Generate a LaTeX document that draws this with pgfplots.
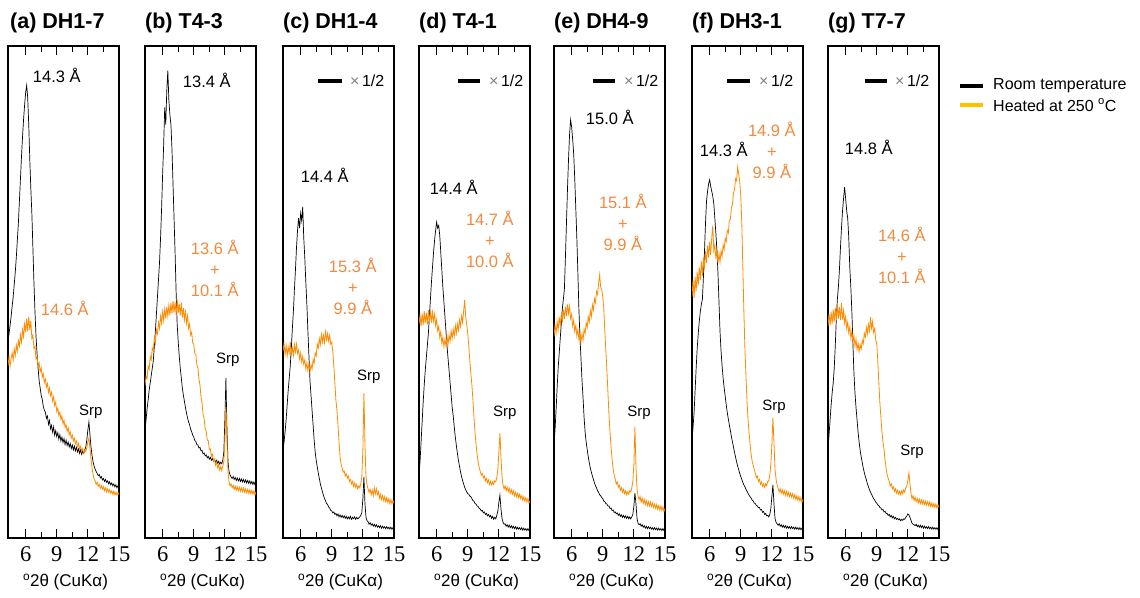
\documentclass[border=0pt]{standalone}
\usepackage{fontspec}
\setmainfont{Liberation Sans}
\newfontfamily\tnr{Liberation Serif}
\usepackage{pgfplots}
\usepackage{pgfplotstable}
\pgfplotsset{compat=1.18}

\definecolor{heatorange}{HTML}{FF8C00}
\definecolor{labelorange}{HTML}{F28A3E}
\definecolor{legendgold}{HTML}{FFC000}

\newcommand{\ttl}{\bfseries\fontsize{21.5}{21.5}\selectfont}
\newcommand{\lab}{\fontsize{16.5}{21}\selectfont}
\newcommand{\srp}{\fontsize{15}{15}\selectfont}

% columns: 2theta, room temperature (b), heated at 250 C (o)
\pgfplotstableread{
x b o
4.3 40.0 35.0
4.4 41.5 36.8
4.5 43.2 34.9
4.6 45.0 36.5
4.7 47.1 37.6
4.8 49.0 36.2
4.9 51.5 38.4
5.0 54.0 37.1
5.1 57.0 39.2
5.2 60.5 38.0
5.3 64.0 40.1
5.4 68.5 39.0
5.5 73.0 41.3
5.6 77.5 39.8
5.7 81.5 42.4
5.8 85.0 40.9
5.9 88.0 43.5
6.0 90.5 41.8
6.1 92.0 44.6
6.2 89.5 42.0
6.3 84.0 45.0
6.4 77.0 42.3
6.5 71.0 44.1
6.6 66.0 40.6
6.7 59.0 41.2
6.8 52.0 38.5
6.9 46.0 38.9
7.0 41.0 36.4
7.1 37.5 36.8
7.2 34.5 35.0
7.3 32.0 35.6
7.4 30.5 33.8
7.5 29.0 34.6
7.6 28.2 32.7
7.7 26.8 33.4
7.8 26.0 31.6
7.9 25.6 32.3
8.0 24.3 30.7
8.1 24.8 31.4
8.2 23.1 29.6
8.3 23.9 30.5
8.4 22.2 28.9
8.5 22.9 29.6
8.6 21.5 27.8
8.7 22.6 28.7
8.8 20.9 26.9
8.9 21.8 27.6
9.0 20.6 25.7
9.1 21.4 26.4
9.2 20.1 24.9
9.3 21.0 25.6
9.4 19.7 24.1
9.5 20.5 24.8
9.6 19.4 23.2
9.7 20.2 23.9
9.8 19.0 22.5
9.9 19.9 23.0
10.0 18.8 21.7
10.1 19.5 22.4
10.2 18.5 21.0
10.3 19.2 21.6
10.4 18.2 20.3
10.5 18.9 20.9
10.6 17.9 19.7
10.7 18.7 20.3
10.8 17.7 19.2
10.9 18.4 19.7
11.0 17.5 18.6
11.1 18.1 19.2
11.2 17.2 18.1
11.3 17.9 18.6
11.4 17.0 17.6
11.5 17.7 18.2
11.6 17.2 17.3
11.7 17.9 17.8
11.8 18.5 17.6
11.9 20.0 18.4
12.0 22.0 19.6
12.1 23.6 20.3
12.2 21.0 18.2
12.3 18.5 16.0
12.4 16.8 14.3
12.5 15.5 12.9
12.6 14.6 12.0
12.7 14.0 11.6
12.8 13.5 10.9
12.9 13.1 11.3
13.0 12.7 10.5
13.1 12.9 10.9
13.2 12.2 10.1
13.3 12.5 10.6
13.4 11.8 9.9
13.5 12.1 10.4
13.6 11.5 9.6
13.7 11.9 10.2
13.8 11.3 9.4
13.9 11.6 10.0
14.0 11.0 9.3
14.1 11.4 9.8
14.2 10.8 9.1
14.3 11.2 9.6
14.4 10.6 8.9
14.5 11.0 9.5
14.6 10.4 8.8
14.7 10.8 9.3
14.8 10.2 8.7
14.9 10.6 9.2
15.0 10.2 8.8
}\tabA

\pgfplotstableread{
x b o
4.3 22.0 31.0
4.4 24.0 32.8
4.5 26.2 32.4
4.6 28.0 34.9
4.7 30.0 34.3
4.8 31.5 36.9
4.9 33.0 36.2
5.0 34.5 38.6
5.1 36.0 38.0
5.2 39.0 40.7
5.3 42.0 39.6
5.4 45.5 42.3
5.5 49.0 41.5
5.6 52.5 43.8
5.7 56.0 42.6
5.8 61.0 45.1
5.9 67.0 43.7
6.0 74.0 46.0
6.1 80.0 44.2
6.2 87.5 46.5
6.3 84.0 44.6
6.4 91.0 47.0
6.5 95.0 45.1
6.6 89.0 47.3
6.7 86.0 45.3
6.8 84.0 47.8
6.9 79.0 45.6
7.0 72.0 48.2
7.1 65.0 45.8
7.2 58.0 47.9
7.3 50.0 45.4
7.4 43.5 48.5
7.5 40.0 45.7
7.6 37.0 47.6
7.7 34.5 45.2
7.8 32.5 47.9
7.9 30.5 44.8
8.0 29.0 46.7
8.1 27.8 44.3
8.2 26.5 46.0
8.3 25.4 43.6
8.4 24.4 45.2
8.5 23.6 42.6
8.6 23.0 43.5
8.7 22.1 41.2
8.8 21.6 41.8
8.9 20.9 39.6
9.0 20.5 39.4
9.1 19.8 37.5
9.2 19.6 37.3
9.3 19.0 35.2
9.4 18.9 34.6
9.5 18.3 32.3
9.6 18.4 31.1
9.7 17.7 28.6
9.8 17.8 27.4
9.9 17.1 25.1
10.0 17.3 24.3
10.1 16.7 22.2
10.2 16.9 21.7
10.3 16.3 19.9
10.4 16.6 19.8
10.5 16.0 18.0
10.6 16.4 18.1
10.7 15.8 16.6
10.8 16.2 17.0
10.9 15.6 15.6
11.0 16.0 16.0
11.1 15.4 14.8
11.2 15.8 15.4
11.3 15.2 14.3
11.4 15.6 14.9
11.5 15.0 13.8
11.6 15.4 14.5
11.7 15.1 13.7
11.8 15.8 14.6
11.9 17.5 15.5
12.0 24.0 19.5
12.1 32.5 26.6
12.2 22.0 20.0
12.3 15.5 13.5
12.4 13.5 11.4
12.5 12.8 10.6
12.6 12.4 11.0
12.7 12.1 10.2
12.8 12.5 10.7
12.9 11.9 9.9
13.0 12.3 10.5
13.1 11.7 9.7
13.2 12.2 10.4
13.3 11.6 9.6
13.4 12.1 10.3
13.5 11.5 9.5
13.6 12.0 10.2
13.7 11.4 9.4
13.8 11.9 10.1
13.9 11.3 9.3
14.0 11.8 10.0
14.1 11.2 9.2
14.2 11.7 9.9
14.3 11.1 9.1
14.4 11.6 9.8
14.5 11.0 9.0
14.6 11.5 9.7
14.7 10.9 8.9
14.8 11.4 9.6
14.9 10.8 8.8
15.0 11.2 9.4
}\tabB

\pgfplotstableread{
x b o
4.3 18.0 38.0
4.4 19.5 39.5
4.5 21.5 37.3
4.6 24.0 39.1
4.7 27.0 37.0
4.8 30.0 38.8
4.9 32.5 37.6
5.0 35.0 39.9
5.1 38.5 37.4
5.2 42.5 38.6
5.3 46.0 37.1
5.4 50.5 39.3
5.5 54.5 37.8
5.6 59.0 39.4
5.7 62.5 37.5
5.8 65.0 38.2
5.9 63.0 36.4
6.0 66.0 37.6
6.1 64.5 35.8
6.2 67.3 36.9
6.3 61.0 35.3
6.4 57.0 36.2
6.5 52.0 34.4
6.6 47.5 35.6
6.7 42.0 34.0
6.8 37.0 35.4
6.9 32.0 33.8
7.0 29.0 35.2
7.1 26.0 34.3
7.2 23.0 36.3
7.3 20.0 35.5
7.4 17.5 37.6
7.5 15.8 37.0
7.6 14.5 39.4
7.7 13.2 38.6
7.8 12.1 40.5
7.9 11.0 39.3
8.0 10.2 41.4
8.1 9.4 39.8
8.2 8.7 41.2
8.3 8.0 39.7
8.4 7.6 41.9
8.5 7.0 40.3
8.6 6.8 41.6
8.7 6.3 40.0
8.8 6.1 41.2
8.9 5.6 39.4
9.0 5.5 39.8
9.1 5.1 37.8
9.2 5.3 35.0
9.3 4.8 31.5
9.4 5.0 28.0
9.5 4.5 26.0
9.6 4.9 23.0
9.7 4.3 19.5
9.8 4.7 16.5
9.9 4.2 15.0
10.0 4.6 14.2
10.1 4.1 13.4
10.2 4.5 13.6
10.3 4.0 12.6
10.4 4.4 13.0
10.5 3.9 12.2
10.6 4.3 12.6
10.7 3.9 11.5
10.8 4.4 11.9
10.9 3.8 11.0
11.0 4.2 11.5
11.1 3.9 10.5
11.2 4.3 11.2
11.3 3.8 10.3
11.4 4.2 10.9
11.5 3.9 10.0
11.6 4.1 10.6
11.7 4.3 10.2
11.8 4.6 11.0
11.9 5.2 12.5
12.0 8.0 18.0
12.1 12.4 29.5
12.2 7.0 19.0
12.3 4.2 12.5
12.4 3.5 10.8
12.5 3.3 10.0
12.6 2.8 9.3
12.7 3.1 9.9
12.8 2.6 8.8
12.9 2.9 9.7
13.0 2.4 8.6
13.1 2.8 10.2
13.2 2.3 9.0
13.3 2.7 10.0
13.4 2.2 8.8
13.5 2.5 9.4
13.6 2.1 8.1
13.7 2.5 8.9
13.8 2.0 7.8
13.9 2.4 8.6
14.0 2.0 7.6
14.1 2.3 8.4
14.2 1.9 7.4
14.3 2.3 8.2
14.4 1.9 7.2
14.5 2.2 8.0
14.6 1.8 7.0
14.7 2.2 7.8
14.8 1.8 6.9
14.9 2.1 7.6
15.0 1.9 7.0
}\tabC

\pgfplotstableread{
x b o
4.3 13.0 43.5
4.4 15.5 45.2
4.5 19.5 43.0
4.6 23.5 45.6
4.7 27.5 43.3
4.8 31.0 46.1
4.9 34.0 43.7
5.0 36.5 45.8
5.1 39.0 43.4
5.2 41.5 46.3
5.3 45.0 44.0
5.4 48.5 46.0
5.5 52.0 43.8
5.6 55.0 45.9
5.7 58.0 44.1
5.8 60.5 45.5
5.9 62.5 43.2
6.0 64.2 44.4
6.1 63.0 42.1
6.2 63.5 43.0
6.3 61.5 40.8
6.4 58.0 41.9
6.5 54.5 39.6
6.6 51.0 40.8
6.7 48.0 38.9
6.8 45.0 40.4
6.9 42.0 39.0
7.0 39.0 41.0
7.1 36.5 39.3
7.2 34.0 41.2
7.3 31.5 40.0
7.4 29.0 42.1
7.5 26.5 40.6
7.6 24.8 42.4
7.7 22.5 41.0
7.8 20.5 43.2
7.9 18.8 41.6
8.0 17.2 43.5
8.1 15.8 42.2
8.2 14.6 44.3
8.3 13.5 43.0
8.4 12.5 45.1
8.5 11.7 43.8
8.6 11.0 46.0
8.7 10.3 48.4
8.8 9.8 45.0
8.9 9.4 43.5
9.0 9.0 41.5
9.1 8.9 39.0
9.2 8.5 36.0
9.3 8.4 33.5
9.4 8.0 31.0
9.5 7.6 28.0
9.6 7.5 24.5
9.7 7.0 21.5
9.8 6.9 19.0
9.9 6.5 17.0
10.0 6.4 15.5
10.1 6.0 14.3
10.2 5.9 13.6
10.3 5.5 12.8
10.4 5.6 13.1
10.5 5.1 12.2
10.6 5.3 12.6
10.7 4.8 11.6
10.8 5.0 12.1
10.9 4.5 11.2
11.0 4.8 11.8
11.1 4.3 10.9
11.2 4.6 11.5
11.3 4.0 10.8
11.4 4.4 11.4
11.5 3.8 10.9
11.6 4.2 11.6
11.7 3.9 11.4
11.8 4.6 12.3
11.9 5.5 14.0
12.0 7.3 17.5
12.1 8.7 21.3
12.2 6.0 16.5
12.3 4.0 12.5
12.4 3.2 10.8
12.5 2.8 10.0
12.6 2.9 10.6
12.7 2.4 9.6
12.8 2.7 10.3
12.9 2.2 9.4
13.0 2.6 10.1
13.1 2.1 9.1
13.2 2.5 9.8
13.3 2.0 8.9
13.4 2.4 9.6
13.5 1.9 8.6
13.6 2.3 9.3
13.7 1.8 8.4
13.8 2.2 9.1
13.9 1.8 8.2
14.0 2.1 8.9
14.1 1.7 8.0
14.2 2.1 8.6
14.3 1.6 7.7
14.4 2.0 8.4
14.5 1.6 7.5
14.6 1.9 8.2
14.7 1.5 7.3
14.8 1.9 8.0
14.9 1.5 7.1
15.0 1.8 7.6
}\tabD

\pgfplotstableread{
x b o
4.3 19.0 41.0
4.4 22.0 43.2
4.5 26.0 41.6
4.6 30.5 44.0
4.7 34.5 42.3
4.8 37.5 44.9
4.9 40.5 43.0
5.0 43.5 45.6
5.1 46.5 43.8
5.2 48.5 46.4
5.3 50.5 44.5
5.4 57.0 47.0
5.5 64.0 45.1
5.6 71.0 47.5
5.7 77.0 45.6
5.8 82.0 47.1
5.9 85.0 44.6
6.0 83.5 45.5
6.1 81.0 43.1
6.2 78.0 44.3
6.3 73.0 42.0
6.4 67.0 43.2
6.5 61.0 41.1
6.6 54.0 42.4
6.7 46.5 40.3
6.8 41.0 41.8
6.9 36.5 39.8
7.0 32.0 41.5
7.1 28.5 40.2
7.2 24.5 42.4
7.3 21.5 41.6
7.4 19.5 43.7
7.5 18.0 42.8
7.6 16.5 45.0
7.7 15.3 43.9
7.8 14.2 46.2
7.9 13.4 45.0
8.0 12.6 47.4
8.1 11.9 46.3
8.2 11.2 48.6
8.3 10.6 47.8
8.4 10.2 50.1
8.5 9.6 49.5
8.6 9.3 51.8
8.7 8.8 53.5
8.8 8.6 51.0
8.9 8.2 50.5
9.0 8.0 49.0
9.1 7.5 46.5
9.2 7.4 42.0
9.3 7.0 38.0
9.4 6.9 34.0
9.5 6.5 29.5
9.6 6.5 25.0
9.7 6.0 21.5
9.8 6.1 18.5
9.9 5.6 16.0
10.0 5.7 14.0
10.1 5.2 12.8
10.2 5.3 12.0
10.3 4.9 11.0
10.4 5.1 11.4
10.5 4.6 10.3
10.6 4.9 10.7
10.7 4.4 9.7
10.8 4.7 10.2
10.9 4.2 9.3
11.0 4.6 9.9
11.1 4.1 9.0
11.2 4.5 9.6
11.3 4.0 8.8
11.4 4.4 9.4
11.5 3.9 8.9
11.6 4.3 9.6
11.7 3.9 9.4
11.8 4.3 10.2
11.9 4.8 11.5
12.0 6.5 15.0
12.1 9.1 22.6
12.2 7.0 14.5
12.3 4.0 10.0
12.4 3.0 8.5
12.5 2.7 7.8
12.6 2.9 8.4
12.7 2.4 7.3
12.8 2.7 8.1
12.9 2.2 7.0
13.0 2.5 7.8
13.1 2.0 6.8
13.2 2.4 7.6
13.3 1.9 6.6
13.4 2.3 7.4
13.5 1.9 6.5
13.6 2.2 7.3
13.7 1.8 6.4
13.8 2.1 7.1
13.9 1.7 6.2
14.0 2.1 6.9
14.1 1.7 6.0
14.2 2.0 6.8
14.3 1.6 5.9
14.4 2.0 6.6
14.5 1.6 5.7
14.6 1.9 6.5
14.7 1.5 5.6
14.8 1.9 6.3
14.9 1.5 5.4
15.0 1.7 6.0
}\tabE

\pgfplotstableread{
x b o
4.3 20.0 49.0
4.4 22.5 52.5
4.5 25.5 48.8
4.6 30.0 53.0
4.7 34.5 50.2
4.8 38.5 54.1
4.9 41.5 51.3
5.0 44.0 55.0
5.1 46.0 52.4
5.2 47.5 56.2
5.3 48.5 53.3
5.4 53.0 57.0
5.5 58.0 54.6
5.6 64.0 58.3
5.7 68.5 55.9
5.8 70.5 59.4
5.9 72.0 57.0
6.0 72.8 60.2
6.1 71.5 57.5
6.2 70.5 61.0
6.3 69.5 63.5
6.4 68.0 58.4
6.5 65.0 59.6
6.6 62.0 56.8
6.7 58.5 58.5
6.8 54.0 55.9
6.9 48.0 57.8
7.0 42.0 56.0
7.1 38.0 58.4
7.2 35.0 57.3
7.3 32.5 59.6
7.4 30.5 58.6
7.5 28.8 60.9
7.6 27.0 60.2
7.7 25.5 62.5
7.8 24.2 62.0
7.9 23.0 64.6
8.0 21.8 64.8
8.1 20.6 67.2
8.2 19.5 67.8
8.3 18.5 70.1
8.4 17.4 70.9
8.5 16.4 73.0
8.6 15.5 72.6
8.7 14.6 75.4
8.8 13.9 74.0
8.9 13.1 72.5
9.0 12.5 69.5
9.1 11.9 64.0
9.2 11.3 55.0
9.3 10.8 46.0
9.4 10.4 38.5
9.5 9.9 33.0
9.6 9.5 28.0
9.7 9.1 24.0
9.8 8.7 21.5
9.9 8.4 19.0
10.0 8.1 17.0
10.1 7.7 15.6
10.2 7.5 14.8
10.3 7.1 13.9
10.4 7.0 13.2
10.5 6.6 12.3
10.6 6.5 12.6
10.7 6.2 11.5
10.8 6.2 11.9
10.9 5.7 10.9
11.0 5.8 11.4
11.1 5.2 10.5
11.2 5.4 11.0
11.3 4.8 10.3
11.4 5.0 11.0
11.5 4.5 10.6
11.6 4.6 11.5
11.7 4.3 11.6
11.8 4.8 12.8
11.9 6.0 15.0
12.0 8.5 19.0
12.1 10.8 24.4
12.2 7.0 19.5
12.3 4.0 14.0
12.4 3.2 12.0
12.5 2.9 10.8
12.6 2.6 10.1
12.7 2.9 9.4
12.8 2.4 10.0
12.9 2.7 9.1
13.0 2.2 9.8
13.1 2.6 8.9
13.2 2.1 9.6
13.3 2.5 8.7
13.4 2.0 9.5
13.5 2.4 8.6
13.6 2.0 9.3
13.7 2.3 8.4
13.8 1.9 9.1
13.9 2.3 8.3
14.0 1.9 9.0
14.1 2.2 8.1
14.2 1.8 8.8
14.3 2.2 7.9
14.4 1.8 8.6
14.5 2.1 7.7
14.6 1.7 8.4
14.7 2.1 7.5
14.8 1.7 8.2
14.9 2.0 7.3
15.0 1.8 7.9
}\tabF

\pgfplotstableread{
x b o
4.3 18.0 43.0
4.4 21.0 45.5
4.5 24.0 43.2
4.6 27.0 46.0
4.7 29.5 43.6
4.8 31.5 46.4
4.9 34.5 43.9
5.0 39.0 46.8
5.1 44.5 44.2
5.2 48.5 47.5
5.3 51.0 44.6
5.4 54.5 46.9
5.5 59.0 44.3
5.6 63.0 47.8
5.7 66.5 44.4
5.8 69.0 46.2
5.9 71.3 43.7
6.0 69.0 45.0
6.1 66.5 42.6
6.2 65.0 43.9
6.3 61.0 41.7
6.4 55.0 42.9
6.5 51.0 40.6
6.6 46.0 42.0
6.7 39.5 39.8
6.8 33.5 41.2
6.9 29.5 39.0
7.0 26.5 40.4
7.1 24.0 38.3
7.2 21.5 39.6
7.3 19.5 37.9
7.4 17.8 39.3
7.5 16.5 38.4
7.6 15.3 40.2
7.7 14.2 39.5
7.8 13.3 41.6
7.9 12.5 40.8
8.0 11.8 42.8
8.1 11.0 41.5
8.2 10.4 43.4
8.3 9.8 42.1
8.4 9.3 44.9
8.5 8.9 42.6
8.6 8.4 44.0
8.7 8.0 41.8
8.8 7.7 42.6
8.9 7.3 40.3
9.0 7.1 39.5
9.1 6.7 36.0
9.2 6.6 31.5
9.3 6.2 27.5
9.4 6.1 24.5
9.5 5.7 21.5
9.6 5.8 19.5
9.7 5.3 18.0
9.8 5.4 15.8
9.9 5.0 14.2
10.0 5.0 12.9
10.1 4.6 12.1
10.2 4.8 11.5
10.3 4.3 10.6
10.4 4.6 11.0
10.5 4.1 10.0
10.6 4.4 10.4
10.7 3.9 9.5
10.8 4.2 10.0
10.9 3.8 9.1
11.0 4.0 9.7
11.1 3.7 8.9
11.2 3.9 9.5
11.3 3.5 8.8
11.4 3.8 9.6
11.5 3.6 9.0
11.6 3.9 9.8
11.7 3.8 9.3
11.8 4.2 10.2
11.9 4.5 10.6
12.0 4.9 11.8
12.1 4.7 13.2
12.2 4.2 11.0
12.3 3.6 9.0
12.4 3.0 8.0
12.5 2.8 8.6
12.6 2.7 7.6
12.7 2.5 8.3
12.8 2.8 7.4
12.9 2.3 8.0
13.0 2.6 7.1
13.1 2.2 7.9
13.2 2.6 7.0
13.3 2.1 7.7
13.4 2.5 6.9
13.5 2.0 7.6
13.6 2.4 6.8
13.7 2.0 7.5
13.8 2.3 6.7
13.9 1.9 7.4
14.0 2.3 6.6
14.1 1.9 7.3
14.2 2.2 6.4
14.3 1.8 7.1
14.4 2.2 6.3
14.5 1.8 7.0
14.6 2.1 6.2
14.7 1.8 6.9
14.8 2.1 6.1
14.9 1.7 6.7
15.0 2.0 6.2
}\tabG

\pgfplotsset{
  xrdpanel/.style={
    anchor=south west,
    scale only axis, width=111pt, height=492pt,
    xmin=4.3, xmax=15, ymin=0, ymax=100,
    xtick={6,9,12,15}, xticklabels={6,9,12,15},
    minor xtick={7.5,10.5,13.5},
    ytick=\empty,
    tick align=inside,
    major tick length=9pt, minor tick length=6pt,
    tick style={black, line width=1.1pt},
    axis line style={line width=1.3pt},
    xticklabel style={font=\tnr\fontsize{22.5}{22.5}\selectfont, anchor=center, yshift=-16pt},
    xlabel={\textsuperscript{o}2θ (CuKα)},
    xlabel style={font=\fontsize{17}{17}\selectfont, at={(rel axis cs:0.5,0)}, anchor=center, yshift=-44pt, xshift=2pt},
    clip mode=individual,
  },
  rt/.style={black, line width=0.7pt, mark=none},
  ht/.style={heatorange, line width=0.8pt, mark=none},
}

% half-scale marker for the room-temperature trace
\newcommand{\halfscale}[3]{%
  \draw[line width=4pt] (axis cs:#1,92.9) -- (axis cs:#2,92.9);
  \node[anchor=west, inner sep=0pt, font=\fontsize{16}{16}\selectfont] at (axis cs:#3,92.9) {\textcolor{gray}{×}\,1/2};
}

\begin{document}
\begin{tikzpicture}
\path[use as bounding box] (0,0) rectangle (1140pt,597pt);

% (a)
\begin{axis}[xrdpanel, at={(8pt,59pt)}]
  \addplot[rt] table[x=x,y=b]{\tabA};
  \addplot[ht] table[x=x,y=o]{\tabA};
  \node[anchor=base west, inner sep=0pt, yshift=17pt, xshift=2pt, font=\ttl] at (rel axis cs:0,1) {(a) DH1-7};
  \node[font=\lab] at (axis cs:9.0,94.1) {14.3 Å};
  \node[font=\lab, text=labelorange] at (axis cs:9.78,46.7) {14.6 Å};
  \node[font=\srp] at (axis cs:12.29,25.6) {Srp};
\end{axis}

% (b)
\begin{axis}[xrdpanel, at={(145pt,59pt)}]
  \addplot[rt] table[x=x,y=b]{\tabB};
  \addplot[ht] table[x=x,y=o]{\tabB};
  \node[anchor=base west, inner sep=0pt, yshift=17pt, font=\ttl] at (rel axis cs:0,1) {(b) T4-3};
  \node[font=\lab] at (axis cs:10.26,93.1) {13.4 Å};
  \node[font=\lab, text=labelorange, align=center] at (axis cs:11.03,54.9) {13.6 Å\\+\\10.1 Å};
  \node[font=\srp] at (axis cs:12.29,36.2) {Srp};
\end{axis}

% (c)
\begin{axis}[xrdpanel, at={(283pt,59pt)}]
  \addplot[rt] table[x=x,y=b]{\tabC};
  \addplot[ht] table[x=x,y=o]{\tabC};
  \node[anchor=base west, inner sep=0pt, yshift=17pt, font=\ttl] at (rel axis cs:0,1) {(c) DH1-4};
  \halfscale{7.71}{9.94}{10.74}
  \node[font=\lab] at (axis cs:8.32,73.8) {14.4 Å};
  \node[font=\lab, text=labelorange, align=center] at (axis cs:11.03,51.2) {15.3 Å\\+\\9.9 Å};
  \node[font=\srp] at (axis cs:12.58,32.7) {Srp};
\end{axis}

% (d)
\begin{axis}[xrdpanel, at={(419pt,59pt)}]
  \addplot[rt] table[x=x,y=b]{\tabD};
  \addplot[ht] table[x=x,y=o]{\tabD};
  \node[anchor=base west, inner sep=0pt, yshift=17pt, font=\ttl] at (rel axis cs:0,1) {(d) T4-1};
  \halfscale{8.03}{10.16}{11.03}
  \node[font=\lab] at (axis cs:7.65,71.3) {14.4 Å};
  \node[font=\lab, text=labelorange, align=center] at (axis cs:11.13,60.6) {14.7 Å\\+\\10.0 Å};
  \node[font=\srp] at (axis cs:12.58,25.4) {Srp};
\end{axis}

% (e)
\begin{axis}[xrdpanel, at={(554pt,59pt)}]
  \addplot[rt] table[x=x,y=b]{\tabE};
  \addplot[ht] table[x=x,y=o]{\tabE};
  \node[anchor=base west, inner sep=0pt, yshift=17pt, font=\ttl] at (rel axis cs:0,1) {(e) DH4-9};
  \halfscale{8.03}{10.16}{11.03}
  \node[font=\lab] at (axis cs:9.68,85.4) {15.0 Å};
  \node[font=\lab, text=labelorange, align=center] at (axis cs:10.94,64.2) {15.1 Å\\+\\9.9 Å};
  \node[font=\srp] at (axis cs:12.49,25.4) {Srp};
\end{axis}

% (f)
\begin{axis}[xrdpanel, at={(692pt,59pt)}]
  \addplot[rt] table[x=x,y=b]{\tabF};
  \addplot[ht] table[x=x,y=o]{\tabF};
  \node[anchor=base west, inner sep=0pt, yshift=17pt, font=\ttl] at (rel axis cs:0,1) {(f) DH3-1};
  \halfscale{7.65}{9.87}{10.74}
  \node[font=\lab] at (axis cs:7.36,78.9) {14.3 Å};
  \node[font=\lab, text=labelorange, align=center] at (axis cs:12.0,78.7) {14.9 Å\\+\\9.9 Å};
  \node[font=\srp] at (axis cs:12.2,26.6) {Srp};
\end{axis}

% (g)
\begin{axis}[xrdpanel, at={(828pt,59pt)}]
  \addplot[rt] table[x=x,y=b]{\tabG};
  \addplot[ht] table[x=x,y=o]{\tabG};
  \node[anchor=base west, inner sep=0pt, yshift=17pt, font=\ttl] at (rel axis cs:0,1) {(g) T7-7};
  \halfscale{7.84}{9.97}{10.74}
  \node[font=\lab] at (axis cs:8.23,79.3) {14.8 Å};
  \node[font=\lab, text=labelorange, align=center] at (axis cs:11.42,57.5) {14.6 Å\\+\\10.1 Å};
  \node[font=\srp] at (axis cs:12.39,17.5) {Srp};
\end{axis}

% legend
\draw[black, line width=4pt] (960pt,511pt) -- (983pt,511pt);
\node[anchor=west, inner sep=0pt, font=\fontsize{16}{16}\selectfont] at (993pt,511pt) {Room temperature};
\draw[legendgold, line width=4pt] (960pt,492pt) -- (983pt,492pt);
\node[anchor=west, inner sep=0pt, font=\fontsize{16}{16}\selectfont] at (993pt,492pt) {Heated at 250 \textsuperscript{o}C};
\end{tikzpicture}
\end{document}
